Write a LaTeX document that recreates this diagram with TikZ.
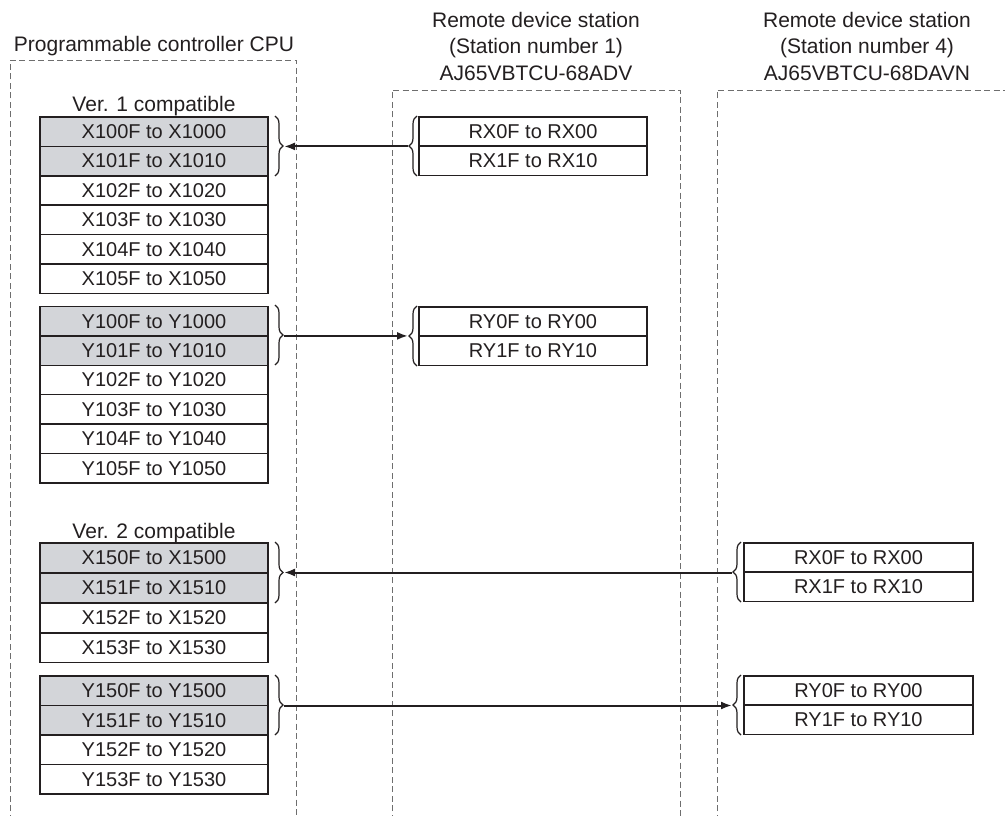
\documentclass[tikz,border=0pt]{standalone}
\usepackage{fontspec}
\setmainfont{Liberation Sans}
\usetikzlibrary{arrows.meta,decorations.pathreplacing}
\definecolor{ink}{RGB}{35,31,32}
\definecolor{shade}{RGB}{211,213,217}
\definecolor{dash}{RGB}{110,110,110}
\tikzset{
  txt/.style={font=\fontsize{20}{26.5}\selectfont, text=ink, inner sep=0pt},
  lbl/.style={font=\fontsize{21}{26.5}\selectfont, text=ink, inner sep=0pt},
  cell/.style={txt, draw=ink, line width=1.5pt, minimum width=228pt, minimum height=29.4pt, anchor=north west, outer sep=0pt},
  gcell/.style={cell, fill=shade},
  frame/.style={draw=dash, line width=0.9pt, dash pattern=on 6pt off 3.5pt},
  brc/.style={draw=ink, line width=1.2pt, decorate, decoration={brace, amplitude=8pt}},
  conn/.style={draw=ink, line width=2pt, -{Latex[length=11pt,width=8pt]}}
}
\begin{document}
\begin{tikzpicture}[x=1pt,y=-1pt]
\clip (0,0) rectangle (1005,816);
\fill[white] (0,0) rectangle (1005,816);
% dashed frames
\draw[frame] (10,830) -- (10,60) -- (296,60) -- (296,830);
\draw[frame] (392,830) -- (392,90) -- (680,90) -- (680,830);
\draw[frame] (717,830) -- (717,90) -- (1020,90);
% titles
\node[lbl, anchor=base] (tcpu) at (154,52) {Programmable controller CPU};
\node[lbl, anchor=north, align=center] (ts1) at (536,12) {Remote device station\\(Station number 1)\\AJ65VBTCU-68ADV};
\node[lbl, anchor=north, align=center] (ts4) at (867,12) {Remote device station\\(Station number 4)\\AJ65VBTCU-68DAVN};
% Ver.1
\node[lbl, anchor=base] (v1) at (154,112) {Ver. 1 compatible};
\node[gcell] (xa1) at (40,117) {X100F to X1000};
\node[gcell] (xa2) at (40,146.4) {X101F to X1010};
\node[cell] (xa3) at (40,175.8) {X102F to X1020};
\node[cell] (xa4) at (40,205.2) {X103F to X1030};
\node[cell] (xa5) at (40,234.6) {X104F to X1040};
\node[cell] (xa6) at (40,264) {X105F to X1050};
\node[gcell] (ya1) at (40,306.5) {Y100F to Y1000};
\node[gcell] (ya2) at (40,335.9) {Y101F to Y1010};
\node[cell] (ya3) at (40,365.3) {Y102F to Y1020};
\node[cell] (ya4) at (40,394.7) {Y103F to Y1030};
\node[cell] (ya5) at (40,424.1) {Y104F to Y1040};
\node[cell] (ya6) at (40,453.5) {Y105F to Y1050};
% Ver.2
\node[lbl, anchor=base] (v2) at (154,538) {Ver. 2 compatible};
\node[gcell] (xb1) at (40,543) {X150F to X1500};
\node[gcell] (xb2) at (40,573) {X151F to X1510};
\node[cell] (xb3) at (40,603) {X152F to X1520};
\node[cell] (xb4) at (40,633) {X153F to X1530};
\node[gcell] (yb1) at (40,676) {Y150F to Y1500};
\node[gcell] (yb2) at (40,705.5) {Y151F to Y1510};
\node[cell] (yb3) at (40,735) {Y152F to Y1520};
\node[cell] (yb4) at (40,764.5) {Y153F to Y1530};
% station 1
\node[cell] (s1x1) at (419,117) {RX0F to RX00};
\node[cell] (s1x2) at (419,146.2) {RX1F to RX10};
\node[cell] (s1y1) at (419,307) {RY0F to RY00};
\node[cell] (s1y2) at (419,336.2) {RY1F to RY10};
% station 4
\node[cell, minimum width=229pt] (s4x1) at (744,543) {RX0F to RX00};
\node[cell, minimum width=229pt] (s4x2) at (744,572.2) {RX1F to RX10};
\node[cell, minimum width=229pt] (s4y1) at (744,676) {RY0F to RY00};
\node[cell, minimum width=229pt] (s4y2) at (744,705.2) {RY1F to RY10};
% braces
\draw[brc] (275,116) -- (275,176);
\draw[brc] (275,305) -- (275,365);
\draw[brc] (275,542) -- (275,603);
\draw[brc] (275,675) -- (275,735);
\draw[brc] (417,176) -- (417,116);
\draw[brc] (417,366) -- (417,306);
\draw[brc] (741,602) -- (741,542);
\draw[brc] (741,735) -- (741,675);
% brace tips
\coordinate (L1) at (284,146.4);
\coordinate (L2) at (284,335.9);
\coordinate (L3) at (284,572.5);
\coordinate (L4) at (284,705.5);
\coordinate (R1) at (408,146.4);
\coordinate (R2) at (408,335.9);
\coordinate (R3) at (732,572.5);
\coordinate (R4) at (732,705.5);
% connectors
\draw[conn] (R1) -- (L1);
\draw[conn] (L2) -- (R2);
\draw[conn] (R3) -- (L3);
\draw[conn] (L4) -- (R4);
\end{tikzpicture}
\end{document}
